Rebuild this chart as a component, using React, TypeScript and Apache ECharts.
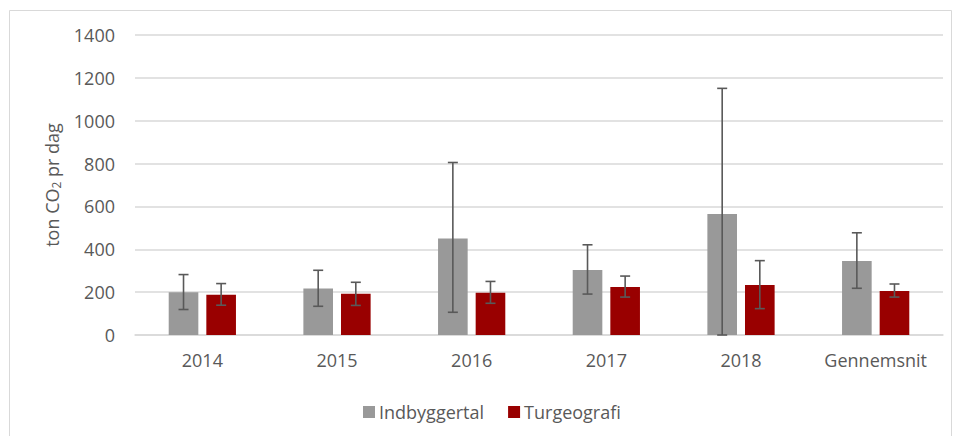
import React, { useEffect, useRef } from "react";
import * as echarts from "echarts";

const categories = ["2014", "2015", "2016", "2017", "2018", "Gennemsnit"];
const indbyggertal = [200, 217, 450, 303, 565, 345];
const indbyggertalLow = [119, 134, 106, 191, 0, 218];
const indbyggertalHigh = [282, 302, 805, 421, 1151, 477];
const turgeografi = [188, 192, 197, 224, 233, 205];
const turgeografiLow = [139, 138, 148, 177, 123, 177];
const turgeografiHigh = [240, 246, 250, 275, 347, 238];
const yTicks = [0, 200, 400, 600, 800, 1000, 1200, 1400];

const BAR_W = 0.22;
const BAR_GAP = 0.27;
const FONT = "'Open Sans', sans-serif";
const TEXT = "#595959";

function errorSeries(name: string, low: number[], high: number[], side: number) {
  const data = categories.map((_, i) => [i, low[i], high[i]]);
  return {
    type: "custom",
    name: name + "_err",
    silent: true,
    z: 10,
    data,
    encode: { x: 0, y: [1, 2] },
    renderItem: (params: any, api: any) => {
      const idx = api.value(0);
      const band = api.size([1, 0])[0];
      const bw = band * BAR_W;
      const off = side * (bw + bw * BAR_GAP) / 2;
      const pLow = api.coord([idx, api.value(1)]);
      const pHigh = api.coord([idx, api.value(2)]);
      const x = pLow[0] + off;
      const cap = 5;
      const style = { stroke: "#595959", lineWidth: 1.6, fill: "none" };
      return {
        type: "group",
        children: [
          { type: "line", shape: { x1: x, y1: pLow[1], x2: x, y2: pHigh[1] }, style },
          { type: "line", shape: { x1: x - cap, y1: pHigh[1], x2: x + cap, y2: pHigh[1] }, style },
          { type: "line", shape: { x1: x - cap, y1: pLow[1], x2: x + cap, y2: pLow[1] }, style },
        ],
      };
    },
  };
}

export default function App() {
  const ref = useRef<HTMLDivElement>(null);
  useEffect(() => {
    if (!ref.current) return;
    const chart = echarts.init(ref.current, undefined, { renderer: "svg" });
    chart.setOption({
      animation: false,
      backgroundColor: "#ffffff",
      textStyle: { fontFamily: FONT },
      graphic: [
        {
          type: "rect",
          shape: { x: 9.5, y: 10.5, width: 942, height: 440 },
          style: { fill: "none", stroke: "#d9d9d9", lineWidth: 1 },
          silent: true,
        },
      ],
      grid: { left: 135, right: 12, top: 35, bottom: 101 },
      legend: {
        bottom: 15,
        left: 363,
        padding: 0,
        itemWidth: 12,
        itemHeight: 12,
        itemGap: 24,
        icon: "rect",
        textStyle: { color: TEXT, fontSize: 18, fontFamily: FONT, padding: [0, 0, 0, -1] },
        data: ["Indbyggertal", "Turgeografi"],
      },
      xAxis: {
        type: "category",
        data: categories,
        axisLine: { lineStyle: { color: "#d9d9d9", width: 1.5 } },
        axisTick: { show: false },
        axisLabel: { color: TEXT, fontSize: 18, margin: 16, fontFamily: FONT },
      },
      yAxis: {
        type: "value",
        min: 0,
        max: yTicks[yTicks.length - 1],
        interval: 200,
        name: "ton CO{sub|2} pr dag",
        nameLocation: "middle",
        nameGap: 62,
        nameTextStyle: {
          color: TEXT,
          fontSize: 18,
          fontFamily: FONT,
          rich: {
            sub: { fontSize: 12, color: TEXT, fontFamily: FONT, padding: [10, 0, 0, 0] },
          },
        },
        axisLine: { show: false },
        axisTick: { show: false },
        axisLabel: {
          color: TEXT,
          fontSize: 18,
          margin: 20,
          fontFamily: FONT,
          formatter: (v: number) => String(v),
        },
        splitLine: { lineStyle: { color: "#d9d9d9", width: 1.5 } },
      },
      series: [
        {
          name: "Indbyggertal",
          type: "bar",
          data: indbyggertal,
          barWidth: BAR_W * 100 + "%",
          barGap: BAR_GAP * 100 + "%",
          itemStyle: { color: "#999999" },
        },
        {
          name: "Turgeografi",
          type: "bar",
          data: turgeografi,
          barWidth: BAR_W * 100 + "%",
          itemStyle: { color: "#990000" },
        },
        errorSeries("Indbyggertal", indbyggertalLow, indbyggertalHigh, -1),
        errorSeries("Turgeografi", turgeografiLow, turgeografiHigh, 1),
      ],
    });
    return () => chart.dispose();
  }, []);
  return (
    <div
      ref={ref}
      style={{ position: "fixed", left: 0, top: 0, width: 955, height: 436 }}
    />
  );
}
